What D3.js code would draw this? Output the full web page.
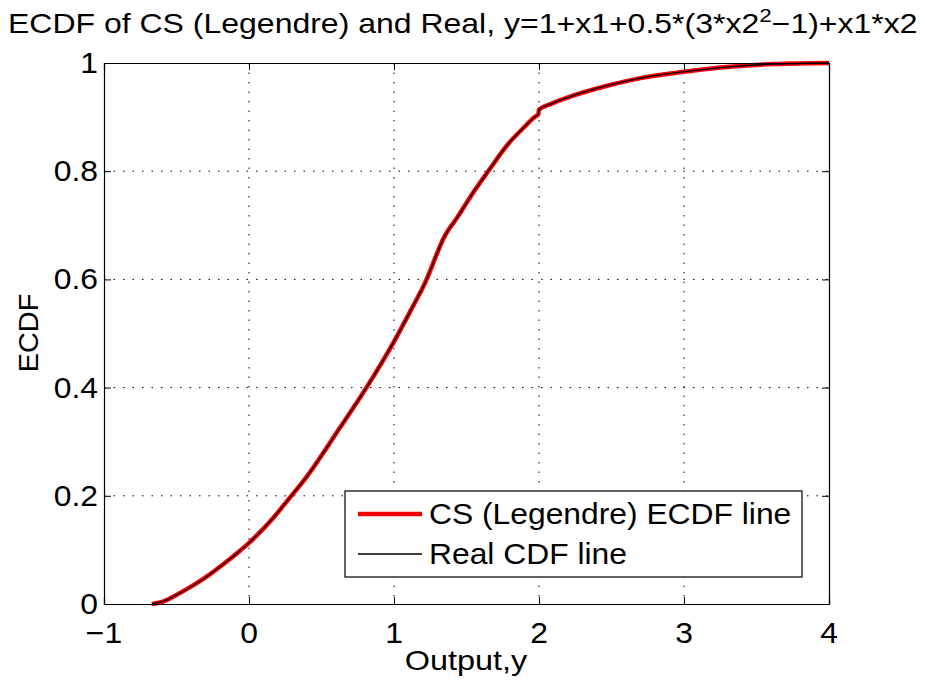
<!DOCTYPE html>
<html><head><meta charset="utf-8">
<script src="https://cdn.jsdelivr.net/npm/d3@7"></script>
<style>body{margin:0;background:#fff;overflow:hidden}svg{display:block}text{font-family:"Liberation Sans",Arial,sans-serif;fill:#000}</style>
</head><body>
<script>
const outputY = [-0.67,-0.60,-0.52,-0.40,-0.29,-0.18,-0.06,0.00,0.17,0.28,0.40,0.63,0.81,1.00,1.11,1.225,1.30,1.34,1.44,1.55,1.65,1.78,1.90,1.97,1.995,2.0,2.08,2.24,2.47,2.70,3.00,3.27,3.62,4.00];
const ecdfCS  = [0,0.004,0.014,0.032,0.051,0.073,0.099,0.113,0.160,0.196,0.236,0.327,0.400,0.485,0.540,0.600,0.650,0.675,0.716,0.762,0.800,0.848,0.882,0.900,0.905,0.914,0.924,0.940,0.958,0.972,0.984,0.992,0.998,1.000];
const cdfReal = ecdfCS.slice();
const xTicks = [-1,0,1,2,3,4];
const yTicks = [0,0.2,0.4,0.6,0.8,1];
const xTickLabels = ["\u22121","0","1","2","3","4"];
const yTickLabels = ["0","0.2","0.4","0.6","0.8","1"];
const seriesNames = ["CS (Legendre) ECDF line","Real CDF line"];

const W=925,H=683;
const m={l:104,r:829,t:63,b:604};
const svg=d3.select("body").append("svg").attr("width",W).attr("height",H);
const x=d3.scaleLinear().domain([-1,4]).range([m.l,m.r]);
const y=d3.scaleLinear().domain([0,1]).range([m.b,m.t]);

function stext(px,py,sx,size,anchor,str,rot){
  const tr=`translate(${px},${py})`+(rot?` rotate(${rot})`:"")+` scale(${sx},1)`;
  return svg.append("text").attr("transform",tr).attr("text-anchor",anchor||"start").attr("font-size",size).text(str);
}

// grid
const g=svg.append("g");
g.selectAll(".vg").data(xTicks.slice(1,-1)).join("line")
 .attr("x1",d=>x(d)).attr("x2",d=>x(d)).attr("y1",m.t).attr("y2",m.b)
 .attr("stroke","#000").attr("stroke-width",1).attr("stroke-dasharray","1.5,8");
g.selectAll(".hg").data(yTicks.slice(1,-1)).join("line")
 .attr("y1",d=>y(d)).attr("y2",d=>y(d)).attr("x1",m.l).attr("x2",m.r)
 .attr("stroke","#000").attr("stroke-width",1).attr("stroke-dasharray","1.5,8");

// curves
const line=d3.line().x((d,i)=>x(outputY[i])).y(d=>y(d)).curve(d3.curveMonotoneX);
svg.append("path").datum(ecdfCS).attr("d",line).attr("fill","none").attr("stroke","#ff0000").attr("stroke-width",4.5).attr("stroke-linejoin","round");
svg.append("path").datum(cdfReal).attr("d",line).attr("fill","none").attr("stroke","#000").attr("stroke-width",1.3);

// axes
const tl=7;
const axB=svg.append("g").attr("transform",`translate(0,${m.b})`).call(d3.axisBottom(x).tickValues(xTicks).tickSize(-tl).tickFormat(""));
const axT=svg.append("g").attr("transform",`translate(0,${m.t})`).call(d3.axisTop(x).tickValues(xTicks).tickSize(-tl).tickFormat(""));
const axL=svg.append("g").attr("transform",`translate(${m.l},0)`).call(d3.axisLeft(y).tickValues(yTicks).tickSize(-tl).tickFormat(""));
const axR=svg.append("g").attr("transform",`translate(${m.r},0)`).call(d3.axisRight(y).tickValues(yTicks).tickSize(-tl).tickFormat(""));
[axB,axT,axL,axR].forEach(a=>{a.select(".domain").attr("stroke","#000").attr("stroke-width",1.2);a.selectAll(".tick line").attr("stroke","#000");});

// tick labels
xTicks.forEach((d,i)=>stext(x(d),643,1.1,29,"middle",xTickLabels[i]));
yTicks.forEach((d,i)=>stext(98,y(d)+10,1.1,29,"end",yTickLabels[i]));

// labels
stext(466,670,1.2,27,"middle","Output,y");
stext(38,333,1.07,27,"middle","ECDF",-90);
const t=svg.append("text").attr("transform","translate(8,33) scale(1.185,1)").attr("font-size",27);
t.append("tspan").text("ECDF of CS (Legendre) and Real, y=1+x1+0.5*(3*x2");
t.append("tspan").attr("dy",-11).attr("font-size",19).text("2");
t.append("tspan").attr("dy",11).text("\u22121)+x1*x2");

// legend
svg.append("rect").attr("x",345).attr("y",491).attr("width",457).attr("height",86).attr("fill","#fff").attr("stroke","#000").attr("stroke-width",1.2);
const items=[{c:"#ff0000",w:4.5,yy:514},{c:"#000",w:1.3,yy:554}];
items.forEach((it,i)=>{
 svg.append("line").attr("x1",358).attr("x2",422).attr("y1",it.yy).attr("y2",it.yy).attr("stroke",it.c).attr("stroke-width",it.w);
 stext(429,it.yy+10,1.097,29,"start",seriesNames[i]);
});
</script>
</body></html>
